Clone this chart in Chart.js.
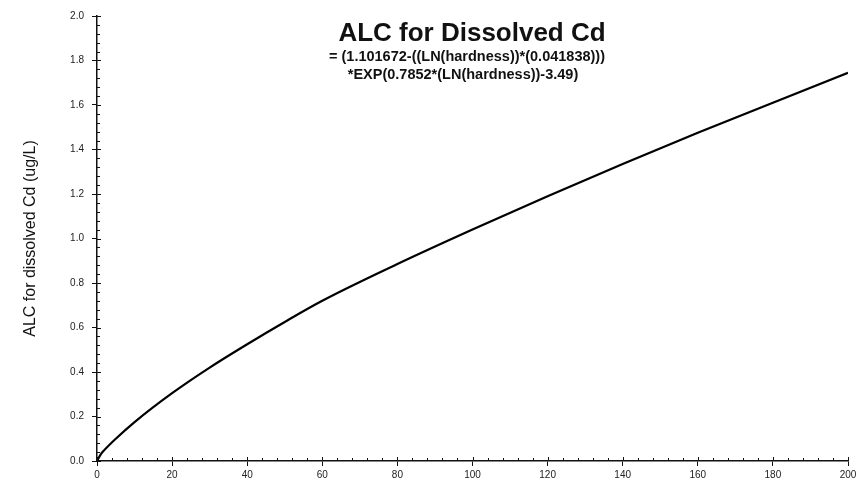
<!DOCTYPE html>
<html>
<head>
<meta charset="utf-8">
<script src="https://cdn.jsdelivr.net/npm/chart.js@4"></script>
<style>
  html, body { margin: 0; padding: 0; background: #fff; }
  #wrap { width: 867px; height: 485px; position: relative; }
</style>
</head>
<body>
<div id="wrap"><canvas id="chart"></canvas></div>
<script>
// values
const hardness = [0, 1, 2, 5, 10, 20, 30, 40, 50, 60, 80, 100, 120, 140, 160, 180, 200];
const alcCd = [0, 0.03, 0.05, 0.10, 0.175, 0.305, 0.42, 0.525, 0.625, 0.72, 0.885, 1.04, 1.19, 1.335, 1.475, 1.61, 1.745];

const titleText = 'ALC for Dissolved Cd';
const formulaLines = ['= (1.101672-((LN(hardness))*(0.041838)))', '*EXP(0.7852*(LN(hardness))-3.49)'];
const yAxisTitle = 'ALC for dissolved Cd (ug/L)';

const points = hardness.map((h, i) => ({ x: h, y: alcCd[i] }));

// minor ticks + inner part of major ticks, and the title block inside the plot
const extras = {
    id: 'extras',
    afterDatasetsDraw(chart) {
        const ctx = chart.ctx;
        const xs = chart.scales.x;
        const ys = chart.scales.y;
        const area = chart.chartArea;
        ctx.save();
        ctx.strokeStyle = '#111';
        ctx.lineWidth = 1;
        ctx.beginPath();
        for (let v = 0; v <= 200; v += 4) {
            const px = Math.round(xs.getPixelForValue(v)) + 0.5;
            const len = v % 20 === 0 ? 4 : 3;
            ctx.moveTo(px, area.bottom);
            ctx.lineTo(px, area.bottom - len);
        }
        for (let i = 0; i <= 50; i++) {
            const v = i * 0.04;
            const py = Math.round(ys.getPixelForValue(v)) + 0.5;
            const len = i % 5 === 0 ? 4 : 3;
            ctx.moveTo(area.left, py);
            ctx.lineTo(area.left + len, py);
        }
        ctx.stroke();

        ctx.fillStyle = '#111';
        ctx.textAlign = 'center';
        ctx.textBaseline = 'middle';
        ctx.font = 'bold 26px "Liberation Sans", Arial, sans-serif';
        ctx.fillText(titleText, 472, 34);
        ctx.font = 'bold 14.5px "Liberation Sans", Arial, sans-serif';
        ctx.fillText(formulaLines[0], 467, 57);
        ctx.fillText(formulaLines[1], 463, 75);
        ctx.restore();
    }
};

new Chart(document.getElementById('chart'), {
    type: 'line',
    data: {
        datasets: [{
            data: points,
            borderColor: '#000',
            borderWidth: 2.2,
            pointRadius: 0,
            cubicInterpolationMode: 'monotone',
            fill: false
        }]
    },
    options: {
        responsive: true,
        maintainAspectRatio: false,
        animation: false,
        layout: { padding: { top: 16, right: 19, left: 0, bottom: 0 } },
        plugins: {
            legend: { display: false },
            tooltip: { enabled: false }
        },
        scales: {
            x: {
                type: 'linear',
                min: 0,
                max: 200,
                ticks: {
                    stepSize: 20,
                    maxRotation: 0,
                    padding: 3,
                    color: '#222',
                    font: { family: '"Liberation Sans", Arial, sans-serif', size: 10 }
                },
                grid: { drawOnChartArea: false, tickLength: 5, tickColor: '#111' },
                border: { color: '#111', width: 1.5 },
                afterFit(scale) { scale.height = 24; }
            },
            y: {
                min: 0,
                max: 2,
                ticks: {
                    stepSize: 0.2,
                    padding: 8,
                    color: '#222',
                    font: { family: '"Liberation Sans", Arial, sans-serif', size: 10 },
                    callback: v => v.toFixed(1)
                },
                grid: { drawOnChartArea: false, tickLength: 5, tickColor: '#111' },
                border: { color: '#111', width: 1.5 },
                title: {
                    display: true,
                    text: yAxisTitle,
                    color: '#111',
                    font: { family: '"Liberation Sans", Arial, sans-serif', size: 16 },
                    padding: { top: 21, bottom: 0 }
                },
                afterFit(scale) { scale.width = 97; }
            }
        }
    },
    plugins: [extras]
});
</script>
</body>
</html>
